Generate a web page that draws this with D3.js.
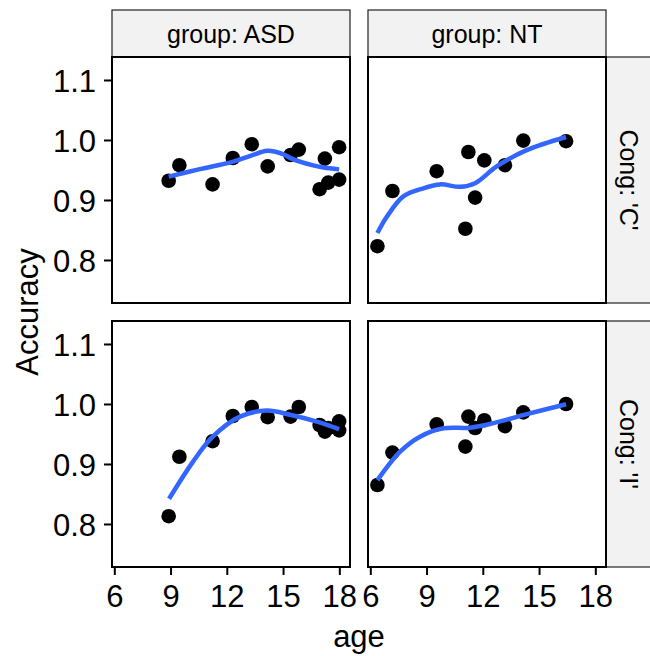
<!DOCTYPE html>
<html>
<head>
<meta charset="utf-8">
<script src="https://cdn.jsdelivr.net/npm/d3@7"></script>
<style>
  body { margin: 0; background: #ffffff; }
  text { font-family: "Liberation Sans", Arial, sans-serif; fill: #000; }
</style>
</head>
<body>
<div id="chart"></div>
<script>
// DATA
var groups = ["ASD", "NT"];
var congs = ["C", "I"];
var xTicks = [6, 9, 12, 15, 18];
var yTicks = [0.8, 0.9, 1.0, 1.1];

// ages per participant
var ageASD = [8.90, 9.47, 11.24, 12.32, 13.33, 14.18, 15.40, 15.84, 16.95, 17.23, 17.41, 17.99, 17.99];
var ageNT = [6.38, 7.18, 9.54, 11.23, 12.08, 11.59, 11.07, 13.18, 14.16, 16.44];

// accuracy per participant
var accASD_C = [0.932, 0.958, 0.926, 0.970, 0.993, 0.956, 0.975, 0.984, 0.918, 0.969, 0.929, 0.988, 0.934];
var accASD_I = [0.813, 0.912, 0.938, 0.980, 0.995, 0.978, 0.979, 0.995, 0.965, 0.954, 0.960, 0.971, 0.956];
var accNT_C = [0.823, 0.915, 0.948, 0.980, 0.966, 0.904, 0.852, 0.958, 0.999, 0.998];
var accNT_I = [0.865, 0.919, 0.966, 0.979, 0.973, 0.960, 0.929, 0.963, 0.986, 1.000];

// loess curve
var fitAgeASD_C = [8.90, 10.5, 12.35, 13.3, 14.16, 14.96, 15.46, 16.55, 17.15, 17.99];
var fitASD_C = [0.939, 0.951, 0.964, 0.974, 0.982, 0.977, 0.969, 0.958, 0.954, 0.951];
var fitAgeNT_C = [6.38, 6.88, 7.76, 8.83, 9.72, 10.79, 11.59, 12.74, 14.34, 16.44];
var fitNT_C = [0.845, 0.872, 0.906, 0.9195, 0.926, 0.922, 0.928, 0.956, 0.983, 1.005];
var fitAgeASD_I = [8.92, 10.2, 11.25, 12.7, 14.12, 15.37, 16.8, 17.99];
var fitASD_I = [0.842, 0.904, 0.9455, 0.979, 0.989, 0.982, 0.9705, 0.958];
var fitAgeNT_I = [6.38, 7.59, 8.65, 9.9, 11.32, 12.56, 14.34, 16.44];
var fitNT_I = [0.873, 0.9205, 0.9455, 0.9595, 0.9605, 0.968, 0.983, 0.9995];

var panels = [
  { group: "ASD", cong: "C", age: ageASD, acc: accASD_C, fitAge: fitAgeASD_C, fit: fitASD_C },
  { group: "NT", cong: "C", age: ageNT, acc: accNT_C, fitAge: fitAgeNT_C, fit: fitNT_C },
  { group: "ASD", cong: "I", age: ageASD, acc: accASD_I, fitAge: fitAgeASD_I, fit: fitASD_I },
  { group: "NT", cong: "I", age: ageNT, acc: accNT_I, fitAge: fitAgeNT_I, fit: fitNT_I }
];

// LAYOUT
var colX = [112, 368],
  rowY = [57, 321],
  pw = 238,
  ph = 246,
  stripH = 47;

var svg = d3.select("#chart").append("svg")
  .attr("width", 650)
  .attr("height", 656);

var xScale = d3.scaleLinear().domain([5.877, 18.57]).range([0, pw]);
var yScale = d3.scaleLinear().domain([0.7283, 1.1383]).range([ph, 0]);

var line = d3.line()
  .x(function (d) { return xScale(d[0]); })
  .y(function (d) { return yScale(d[1]); })
  .curve(d3.curveCatmullRom.alpha(0.5));

// top strips
groups.forEach(function (gname, i) {
  var s = svg.append("g").attr("transform", "translate(" + colX[i] + "," + (rowY[0] - stripH) + ")");
  s.append("rect")
    .attr("width", pw).attr("height", stripH)
    .attr("fill", "#f2f2f2").attr("stroke", "#222").attr("stroke-width", 1.2);
  s.append("text")
    .attr("x", pw / 2).attr("y", stripH / 2)
    .attr("dy", "0.36em")
    .attr("text-anchor", "middle")
    .style("font-size", "25px")
    .text("group: " + gname);
});

// right strips
congs.forEach(function (c, j) {
  var s = svg.append("g").attr("transform", "translate(" + (colX[1] + pw) + "," + rowY[j] + ")");
  s.append("rect")
    .attr("width", stripH).attr("height", ph)
    .attr("fill", "#f2f2f2").attr("stroke", "#222").attr("stroke-width", 1.2);
  s.append("text")
    .attr("transform", "translate(" + (stripH / 2 - 1) + "," + (ph / 2) + ") rotate(90)")
    .attr("dy", "0.36em")
    .attr("text-anchor", "middle")
    .style("font-size", "25px")
    .text("Cong: '" + c + "'");
});

panels.forEach(function (p) {
  var ci = groups.indexOf(p.group),
    ri = congs.indexOf(p.cong);
  var g = svg.append("g").attr("transform", "translate(" + colX[ci] + "," + rowY[ri] + ")");

  g.append("rect")
    .attr("width", pw).attr("height", ph)
    .attr("fill", "#ffffff");

  var pts = p.age.map(function (a, k) { return [a, p.acc[k]]; });
  g.selectAll("circle")
    .data(pts)
    .enter()
    .append("circle")
    .attr("cx", function (d) { return xScale(d[0]); })
    .attr("cy", function (d) { return yScale(d[1]); })
    .attr("r", 7.3)
    .attr("fill", "#000");

  var fitPts = p.fitAge.map(function (a, k) { return [a, p.fit[k]]; });
  g.append("path")
    .datum(fitPts)
    .attr("d", line)
    .attr("fill", "none")
    .attr("stroke", "#3366ff")
    .attr("stroke-width", 4.5);

  g.append("rect")
    .attr("width", pw).attr("height", ph)
    .attr("fill", "none")
    .attr("stroke", "#000")
    .attr("stroke-width", 2);

  // y axis on left column
  if (ci == 0) {
    var ya = g.append("g")
      .call(d3.axisLeft(yScale).tickValues(yTicks).tickFormat(d3.format(".1f")).tickSize(8).tickPadding(8));
    ya.select(".domain").remove();
    ya.selectAll("line").attr("stroke-width", 2);
    ya.selectAll("text").style("font-size", "31px").attr("dy", "0.36em");
  }
  // x axis on bottom row
  if (ri == 1) {
    var xa = g.append("g")
      .attr("transform", "translate(0," + ph + ")")
      .call(d3.axisBottom(xScale).tickValues(xTicks).tickSize(8).tickPadding(10));
    xa.select(".domain").remove();
    xa.selectAll("line").attr("stroke-width", 2);
    xa.selectAll("text").style("font-size", "31px");
  }
});

// axis titles
svg.append("text")
  .attr("x", (colX[0] + colX[1] + pw) / 2)
  .attr("y", 647)
  .attr("text-anchor", "middle")
  .style("font-size", "31px")
  .text("age");

svg.append("text")
  .attr("transform", "translate(38," + (rowY[0] + (rowY[1] + ph - rowY[0]) / 2) + ") rotate(-90)")
  .attr("text-anchor", "middle")
  .style("font-size", "31px")
  .text("Accuracy");
</script>
</body>
</html>
